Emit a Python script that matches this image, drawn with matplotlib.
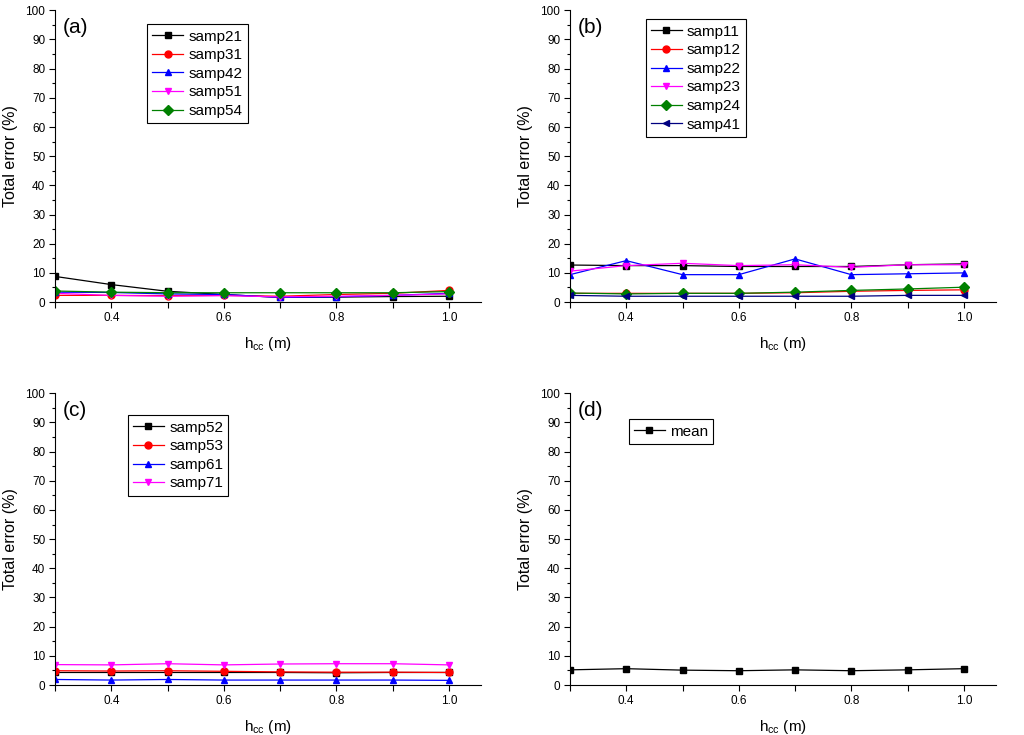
import matplotlib
matplotlib.use('Agg')
import matplotlib.pyplot as plt
from matplotlib.ticker import MultipleLocator, FixedLocator, FixedFormatter

plt.rcParams['font.family'] = ['Liberation Sans', 'DejaVu Sans']
plt.rcParams['mathtext.default'] = 'regular'

# heights of the camera (m)
hcc = [0.3, 0.4, 0.5, 0.6, 0.7, 0.8, 0.9, 1.0]

# panel (a)
samp21 = [8.8, 6.0, 3.7, 2.6, 1.6, 1.7, 1.9, 2.0]
samp31 = [2.3, 2.3, 2.2, 2.3, 2.0, 2.6, 3.0, 4.0]
samp42 = [3.4, 3.3, 2.8, 2.6, 1.6, 1.8, 2.3, 3.0]
samp51 = [3.0, 2.3, 2.0, 2.2, 1.8, 2.0, 2.3, 2.8]
samp54 = [3.8, 3.4, 3.2, 3.2, 3.2, 3.2, 3.2, 3.6]

# panel (b)
samp11 = [12.7, 12.5, 12.5, 12.2, 12.2, 12.2, 12.8, 13.1]
samp12 = [3.0, 3.0, 3.0, 3.0, 3.2, 3.7, 4.0, 4.2]
samp22 = [9.4, 14.2, 9.4, 9.4, 14.8, 9.4, 9.7, 10.0]
samp23 = [10.6, 12.5, 13.3, 12.5, 12.8, 11.9, 12.8, 12.8]
samp24 = [3.1, 2.8, 3.0, 3.0, 3.4, 4.0, 4.5, 5.1]
samp41 = [2.3, 2.0, 2.0, 2.0, 2.0, 2.0, 2.3, 2.3]

# panel (c)
samp52 = [4.3, 4.3, 4.3, 4.3, 4.3, 4.2, 4.3, 4.3]
samp53 = [4.9, 4.8, 4.9, 4.7, 4.5, 4.4, 4.4, 4.3]
samp61 = [1.9, 1.7, 1.9, 1.7, 1.7, 1.7, 1.7, 1.6]
samp71 = [7.0, 6.9, 7.3, 6.9, 7.2, 7.3, 7.3, 6.9]

# panel (d)
mean = [5.2, 5.6, 5.1, 4.9, 5.2, 4.9, 5.2, 5.6]

styles = {
    'samp21': ('black', 's'), 'samp31': ('red', 'o'), 'samp42': ('blue', '^'),
    'samp51': ('magenta', 'v'), 'samp54': ('#008000', 'D'),
    'samp11': ('black', 's'), 'samp12': ('red', 'o'), 'samp22': ('blue', '^'),
    'samp23': ('magenta', 'v'), 'samp24': ('#008000', 'D'), 'samp41': ('#000080', '<'),
    'samp52': ('black', 's'), 'samp53': ('red', 'o'), 'samp61': ('blue', '^'),
    'samp71': ('magenta', 'v'), 'mean': ('black', 's'),
}

panels = [
    ('(a)', {'samp21': samp21, 'samp31': samp31, 'samp42': samp42,
             'samp51': samp51, 'samp54': samp54}, (0.216, 0.952)),
    ('(b)', {'samp11': samp11, 'samp12': samp12, 'samp22': samp22,
             'samp23': samp23, 'samp24': samp24, 'samp41': samp41}, (0.178, 0.969)),
    ('(c)', {'samp52': samp52, 'samp53': samp53, 'samp61': samp61,
             'samp71': samp71}, (0.171, 0.924)),
    ('(d)', {'mean': mean}, (0.138, 0.91)),
]

fig = plt.figure(figsize=(10.24, 7.35), dpi=100)
rects = [
    [0.0537, 0.589, 0.416, 0.397],
    [0.5566, 0.589, 0.416, 0.397],
    [0.0537, 0.068, 0.416, 0.397],
    [0.5566, 0.068, 0.416, 0.397],
]

for rect, (tag, series, legpos) in zip(rects, panels):
    ax = fig.add_axes(rect)
    for name, vals in series.items():
        color, marker = styles[name]
        ms = 5.5 if marker == 'D' else 5
        ax.plot(hcc, vals, color=color, marker=marker, markersize=ms, lw=0.9, label=name)

    ax.set_xlim(0.3, 1.057)
    ax.set_ylim(0, 100)
    ax.spines['top'].set_visible(False)
    ax.spines['right'].set_visible(False)
    ax.xaxis.set_major_locator(FixedLocator(hcc))
    ax.xaxis.set_major_formatter(FixedFormatter(['', '0.4', '', '0.6', '', '0.8', '', '1.0']))
    ax.yaxis.set_major_locator(MultipleLocator(10))
    ax.yaxis.set_minor_locator(MultipleLocator(5))
    ax.tick_params(direction='out', length=4, width=0.8, labelsize=8.5, pad=3)
    ax.tick_params(which='minor', direction='out', length=2, width=0.8)
    ax.set_xlabel('h$_{cc}$ (m)', fontsize=11, labelpad=8)
    ax.set_ylabel('Total error (%)', fontsize=11.5, labelpad=5)
    ax.text(0.019, 0.975, tag, transform=ax.transAxes, ha='left', va='top', fontsize=15)

    ax.legend(loc='upper left', bbox_to_anchor=legpos, borderaxespad=0, fontsize=11,
              frameon=True, fancybox=False, edgecolor='black', framealpha=1,
              handlelength=2.0, labelspacing=0.3, borderpad=0.35, handletextpad=0.35)
    ax.get_legend().get_frame().set_linewidth(0.8)

plt.savefig('out.png', dpi=100)
